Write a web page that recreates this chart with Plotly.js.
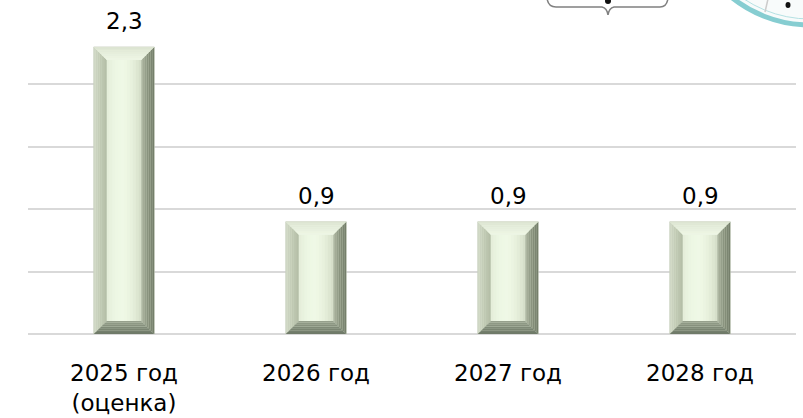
<!DOCTYPE html>
<html>
<head>
<meta charset="utf-8">
<script src="https://cdn.plot.ly/plotly-3.0.1.min.js"></script>
<style>
html,body{margin:0;padding:0;background:#fff;}
#chart{width:803px;height:418px;}
</style>
</head>
<body>
<div id="chart"></div>
<script>
// ---- data ----
const categories = ["2025 год<br>(оценка)", "2026 год", "2027 год", "2028 год"];
const values = [2.3, 0.9, 0.9, 0.9];
const valueLabels = ["2,3", "0,9", "0,9", "0,9"];
const yTicks = [0, 0.5, 1, 1.5, 2, 2.5];

// ---- layout geometry ----
const W = 803, H = 418;
const M = {l: 28, r: 7, t: 22, b: 84};
const yMax = 2.5;
const plotW = W - M.l - M.r, plotH = H - M.t - M.b;
const pxPerX = plotW / categories.length;
const pxPerY = plotH / yMax;
const barWidth = 0.315;
const bevelPx = 13;
const bx = bevelPx / pxPerX, by = bevelPx / pxPerY;
const FONT = "DejaVu Sans";

// colour helpers (styling only)
function hex2rgb(h) { return [1, 3, 5].map(i => parseInt(h.substr(i, 2), 16)); }
function lerpCol(c1, c2, t) {
  const a = hex2rgb(c1), b = hex2rgb(c2);
  return "rgb(" + a.map((v, i) => Math.round(v + (b[i] - v) * t)).join(",") + ")";
}
function stopsCol(stops, t) {
  const n = stops.length - 1;
  const k = Math.min(n - 1, Math.floor(t * n));
  return lerpCol(stops[k], stops[k + 1], t * n - k);
}

// bevel facet colours: outer -> inner
const leftStops = ["#d2d9c8", "#c0c9b3", "#b3bda6"];
const rightStops = ["#717b68", "#8a947f", "#b4bda8"];
const topStops = ["#dbe3d0", "#e6eedc", "#eef6e5"];
const bottomStops = ["#6c7765", "#7f8a77", "#9aa48f"];
const faceStops = ["#e3ecd8", "#edf7e4", "#eff8e6", "#e6efdb", "#d3dcc6"];
const NS = 7;

const shapes = [];
function poly(pts, color) {
  const d = "M" + pts.map(p => p[0] + "," + p[1]).join(" L") + " Z";
  shapes.push({type: "path", xref: "x", yref: "y", path: d, fillcolor: color, line: {width: 0}, layer: "above"});
}
values.forEach((v, i) => {
  const x0 = i - barWidth / 2, x1 = i + barWidth / 2, y0 = 0, y1 = v;
  // inner face with horizontal shading
  const fx0 = x0 + bx, fx1 = x1 - bx, NF = 12;
  for (let k = 0; k < NF; k++) {
    const a = fx0 + (fx1 - fx0) * k / NF, b = fx0 + (fx1 - fx0) * (k + 1.05) / NF;
    poly([[a, y0 + by], [Math.min(b, fx1), y0 + by], [Math.min(b, fx1), y1 - by], [a, y1 - by]], stopsCol(faceStops, (k + 0.5) / NF));
  }
  for (let k = 0; k < NS; k++) {
    const a = k / NS, b = Math.min(1, (k + 1.08) / NS), t = (k + 0.5) / NS;
    poly([[x0 + a*bx, y0 + a*by], [x0 + b*bx, y0 + b*by], [x0 + b*bx, y1 - b*by], [x0 + a*bx, y1 - a*by]], stopsCol(leftStops, t));
    poly([[x1 - a*bx, y0 + a*by], [x1 - b*bx, y0 + b*by], [x1 - b*bx, y1 - b*by], [x1 - a*bx, y1 - a*by]], stopsCol(rightStops, t));
    poly([[x0 + a*bx, y1 - a*by], [x0 + b*bx, y1 - b*by], [x1 - b*bx, y1 - b*by], [x1 - a*bx, y1 - a*by]], stopsCol(topStops, t));
    poly([[x0 + a*bx, y0 + a*by], [x0 + b*bx, y0 + b*by], [x1 - b*bx, y0 + b*by], [x1 - a*bx, y0 + a*by]], stopsCol(bottomStops, t));
  }
});

// ---- slide decorations (cut-off elements at the top right) ----
const px = x => (x - M.l) / plotW, py = y => 1 - (y - M.t) / plotH;
shapes.push({type: "rect", xref: "paper", yref: "paper", x0: px(677), x1: 1.01, y0: 0.985, y1: 1.015,
  fillcolor: "#ffffff", line: {width: 0}, layer: "above"});
shapes.push({type: "path", xref: "paper", yref: "paper",
  path: "M" + px(547) + "," + py(-2) + " Q" + px(548) + "," + py(7) + " " + px(556) + "," + py(7) +
    " L" + px(602) + "," + py(7) + " Q" + px(607) + "," + py(8) + " " + px(608) + "," + py(15) +
    " Q" + px(609) + "," + py(8) + " " + px(614) + "," + py(7) + " L" + px(660) + "," + py(7) +
    " Q" + px(667) + "," + py(7) + " " + px(668) + "," + py(-2),
  line: {color: "#808080", width: 1.5}, layer: "above"});
shapes.push({type: "circle", xref: "paper", yref: "paper",
  x0: px(605), x1: px(611), y0: py(4), y1: py(-2), fillcolor: "#111", line: {width: 0}, layer: "above"});
(function () {
  const cx = 810, cy = -100, r = 125;
  shapes.push({type: "circle", xref: "paper", yref: "paper", x0: px(cx - r), x1: px(cx + r), y0: py(cy + r), y1: py(cy - r),
    fillcolor: "#f8fbfb", line: {color: "#86cdd1", width: 5}, layer: "above"});
  shapes.push({type: "circle", xref: "paper", yref: "paper", x0: px(cx - r + 6), x1: px(cx + r - 6), y0: py(cy + r - 6), y1: py(cy - r + 6),
    fillcolor: "rgba(0,0,0,0)", line: {color: "#b5e1e3", width: 1}, layer: "above"});
  shapes.push({type: "path", xref: "paper", yref: "paper",
    path: "M" + px(768) + "," + py(-1) + " L" + px(765) + "," + py(12), line: {color: "#cccccc", width: 1.5}, layer: "above"});
  shapes.push({type: "circle", xref: "paper", yref: "paper", x0: px(785.5), x1: px(790.5), y0: py(8), y1: py(2),
    fillcolor: "#111", line: {width: 0}, layer: "above"});
})();

// value labels above the bars
const annotations = values.map((v, i) => ({
  x: categories[i], y: v, xref: "x", yref: "y",
  text: valueLabels[i], showarrow: false,
  yanchor: "bottom", yshift: 11,
  font: {family: FONT, size: 23, color: "#000"}
}));

const trace = {
  type: "bar",
  x: categories,
  y: values,
  width: barWidth,
  marker: {color: "#edf7e3", line: {color: "#bcc4b2", width: 0.6}},
  hoverinfo: "none"
};

const layout = {
  width: W, height: H,
  margin: M,
  paper_bgcolor: "#fff", plot_bgcolor: "#fff",
  showlegend: false,
  xaxis: {
    type: "category",
    range: [-0.5, categories.length - 0.5],
    showgrid: false, showline: false, zeroline: false,
    ticks: "outside", ticklen: 18, tickcolor: "rgba(0,0,0,0)",
    tickfont: {family: FONT, size: 23, color: "#000"},
    automargin: false
  },
  yaxis: {
    range: [0, yMax],
    tickvals: yTicks,
    showticklabels: false,
    showgrid: true, gridcolor: "#d9d9d9", gridwidth: 2,
    zeroline: true, zerolinecolor: "#d9d9d9", zerolinewidth: 2,
    showline: false,
    automargin: false
  },
  shapes: shapes,
  annotations: annotations
};

Plotly.newPlot("chart", [trace], layout, {displayModeBar: false, staticPlot: true});
</script>
</body>
</html>
